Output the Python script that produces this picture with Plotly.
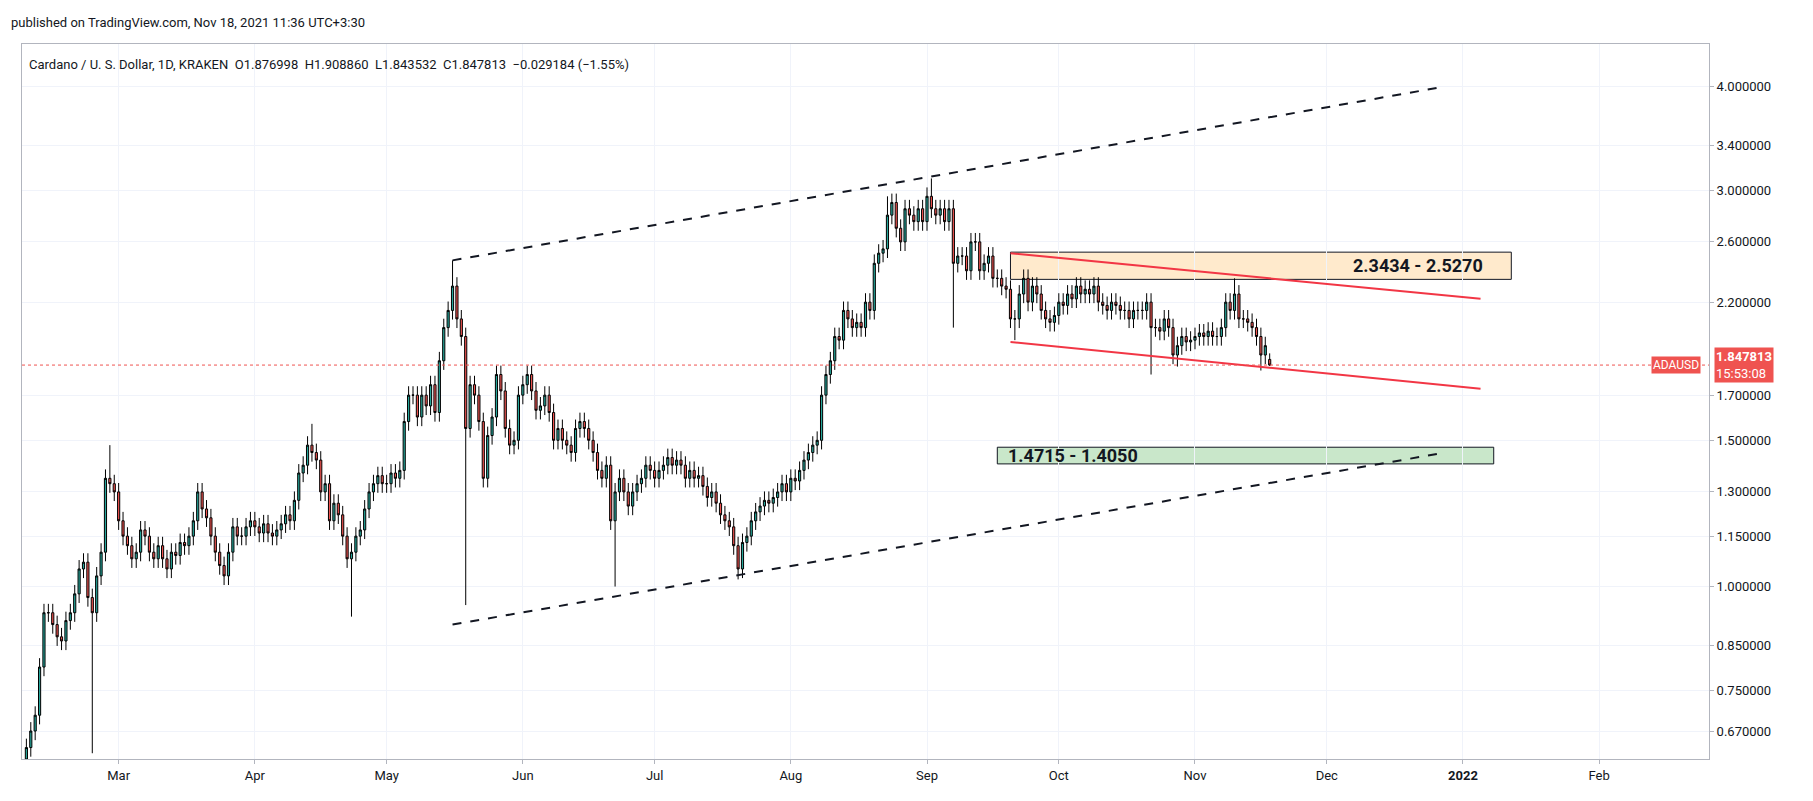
import plotly.graph_objects as go
import pandas as pd

start = "2021-02-08"
closes = [
    0.64, 0.67, 0.70, 0.80, 0.93, 0.93, 0.90,
    0.87, 0.86, 0.91, 0.93, 0.98, 1.05, 1.07,
    0.97, 0.93, 1.03, 1.10, 1.35, 1.33, 1.30,
    1.20, 1.15, 1.12, 1.08, 1.10, 1.17, 1.15,
    1.10, 1.08, 1.12, 1.08, 1.05, 1.10, 1.09,
    1.13, 1.12, 1.15, 1.20, 1.30, 1.24, 1.21,
    1.15, 1.10, 1.06, 1.03, 1.10, 1.18, 1.15,
    1.15, 1.18, 1.20, 1.18, 1.16, 1.19, 1.16,
    1.15, 1.17, 1.19, 1.22, 1.20, 1.27, 1.37,
    1.40, 1.48, 1.45, 1.42, 1.30, 1.33, 1.20,
    1.26, 1.22, 1.15, 1.08, 1.10, 1.15, 1.17,
    1.24, 1.30, 1.33, 1.36, 1.33, 1.33, 1.37,
    1.35, 1.38, 1.58, 1.70, 1.70, 1.60, 1.70,
    1.65, 1.75, 1.62, 1.87, 2.05, 2.15, 2.30,
    2.10, 2.00, 1.55, 1.75, 1.70, 1.58, 1.35,
    1.52, 1.60, 1.80, 1.72, 1.55, 1.48, 1.50,
    1.70, 1.75, 1.80, 1.72, 1.63, 1.65, 1.70,
    1.62, 1.50, 1.55, 1.50, 1.48, 1.45, 1.55,
    1.58, 1.55, 1.50, 1.45, 1.38, 1.35, 1.40,
    1.20, 1.30, 1.35, 1.30, 1.25, 1.30, 1.33,
    1.35, 1.40, 1.38, 1.35, 1.38, 1.40, 1.43,
    1.40, 1.42, 1.40, 1.35, 1.38, 1.35, 1.36,
    1.32, 1.28, 1.30, 1.26, 1.22, 1.20, 1.18,
    1.12, 1.05, 1.13, 1.15, 1.20, 1.23, 1.25,
    1.27, 1.26, 1.28, 1.30, 1.33, 1.30, 1.35,
    1.34, 1.38, 1.42, 1.45, 1.48, 1.50, 1.70,
    1.80, 1.87, 2.00, 1.98, 2.15, 2.10, 2.05,
    2.08, 2.05, 2.20, 2.15, 2.45, 2.52, 2.55,
    2.80, 2.90, 2.70, 2.60, 2.85, 2.80, 2.75,
    2.85, 2.75, 2.95, 2.85, 2.80, 2.85, 2.75,
    2.85, 2.45, 2.50, 2.50, 2.40, 2.60, 2.60,
    2.40, 2.45, 2.50, 2.35, 2.35, 2.30, 2.28,
    2.10, 2.10, 2.25, 2.35, 2.20, 2.30, 2.25,
    2.15, 2.10, 2.08, 2.12, 2.20, 2.18, 2.25,
    2.22, 2.30, 2.25, 2.28, 2.25, 2.30, 2.20,
    2.18, 2.15, 2.20, 2.18, 2.15, 2.15, 2.10,
    2.15, 2.15, 2.15, 2.20, 2.05, 2.05, 2.03,
    2.10, 2.05, 1.90, 1.95, 2.00, 1.97, 1.98,
    2.00, 2.02, 2.00, 2.03, 2.00, 2.00, 2.05,
    2.20, 2.15, 2.25, 2.10, 2.10, 2.08, 2.05,
    2.00, 1.90, 1.95, 1.847813,
]
first_open = 0.62
# notable wick extremes
high_marks = {"2021-02-27": 1.48, "2021-04-14": 1.57, "2021-05-16": 2.47,
              "2021-09-02": 3.10, "2021-11-10": 2.35, "2021-08-23": 2.95,
              "2021-11-18": 1.908860}
low_marks = {"2021-02-23": 0.63, "2021-04-23": 0.92, "2021-05-19": 0.95,
             "2021-06-22": 1.00, "2021-07-20": 1.02, "2021-09-07": 2.05,
             "2021-09-21": 1.98, "2021-10-22": 1.80, "2021-10-28": 1.84,
             "2021-11-16": 1.82, "2021-11-18": 1.843532}

dates = pd.date_range(start, periods=len(closes), freq="D")
opens = [first_open] + closes[:-1]
opens[-1] = 1.876998
highs, lows = [], []
for d, o, c in zip(dates, opens, closes):
    k = d.strftime("%Y-%m-%d")
    highs.append(high_marks.get(k, max(o, c) * 1.025))
    lows.append(low_marks.get(k, min(o, c) * 0.975))

up, down = "#26a69a", "#ef5350"
fig = go.Figure(go.Candlestick(
    x=dates, open=opens, high=highs, low=lows, close=closes,
    increasing=dict(line=dict(color="#000000", width=1), fillcolor=up),
    decreasing=dict(line=dict(color="#000000", width=1), fillcolor=down),
    whiskerwidth=0, showlegend=False, hoverinfo="skip"))

def seg(x0, y0, x1, y1, color, dash):
    fig.add_trace(go.Scatter(x=[x0, x1], y=[y0, y1], mode="lines", showlegend=False,
                             line=dict(color=color, width=2, dash=dash), hoverinfo="skip"))

seg("2021-05-16", 2.47, "2021-12-28", 4.0, "#131722", "dash")
seg("2021-05-16", 0.90, "2021-12-28", 1.45, "#131722", "dash")
seg("2021-09-20", 2.52, "2022-01-05", 2.22, "#f23645", "solid")
seg("2021-09-20", 1.97, "2022-01-05", 1.73, "#f23645", "solid")

fig.add_shape(type="rect", x0="2021-09-20", x1="2022-01-12", y0=2.3434, y1=2.5270,
              fillcolor="rgba(255,152,0,0.2)", line=dict(color="#131722", width=1), layer="below")
fig.add_shape(type="rect", x0="2021-09-17", x1="2022-01-08", y0=1.4050, y1=1.4715,
              fillcolor="rgba(76,175,80,0.3)", line=dict(color="#131722", width=1), layer="below")
fig.add_annotation(x="2022-01-06", y=0.5 * (0.3698 + 0.4027), text="<b>2.3434 - 2.5270</b>",
                   showarrow=False, xanchor="right", font=dict(size=18, color="#131722"))
fig.add_annotation(x="2021-09-19", y=0.5 * (0.1477 + 0.1678), text="<b>1.4715 - 1.4050</b>",
                   showarrow=False, xanchor="left", font=dict(size=18, color="#131722"))

last = closes[-1]
fig.add_hline(y=last, line=dict(color="#ef5350", width=1, dash="dot"))
fig.add_annotation(xref="paper", x=0.995, y=0.2667, text="ADAUSD", showarrow=False,
                   bgcolor="#ef5350", font=dict(color="white", size=12), xanchor="right")
fig.add_annotation(xref="paper", x=1.003, y=0.2667, text="<b>1.847813</b><br>15:53:08",
                   showarrow=False, bgcolor="#ef5350", font=dict(color="white", size=13),
                   xanchor="left", align="left")

fig.add_annotation(xref="paper", yref="paper", x=0.003, y=0.985, xanchor="left", yanchor="top",
                   text="Cardano / U. S. Dollar, 1D, KRAKEN  O1.876998  H1.908860  L1.843532  "
                        "C1.847813  −0.029184 (−1.55%)",
                   showarrow=False, font=dict(size=13, color="#131722"))
fig.add_annotation(xref="paper", yref="paper", x=-0.008, y=1.0, yshift=12,
                   xanchor="left", yanchor="bottom",
                   text="published on TradingView.com, Nov 18, 2021 11:36 UTC+3:30",
                   showarrow=False, font=dict(size=13, color="#131722"))

ticks = [0.67, 0.75, 0.85, 1.0, 1.15, 1.3, 1.5, 1.7, 2.2, 2.6, 3.0, 3.4, 4.0]
months = ["2021-03-01", "2021-04-01", "2021-05-01", "2021-06-01", "2021-07-01", "2021-08-01",
          "2021-09-01", "2021-10-01", "2021-11-01", "2021-12-01", "2022-01-01", "2022-02-01"]
month_labels = ["Mar", "Apr", "May", "Jun", "Jul", "Aug", "Sep", "Oct", "Nov", "Dec",
                "<b>2022</b>", "Feb"]
fig.update_layout(
    width=1813, height=801, plot_bgcolor="white", paper_bgcolor="white",
    margin=dict(l=14, r=112, t=36, b=50),
    font=dict(family="Roboto, Noto Sans, sans-serif", color="#131722"),
    xaxis=dict(range=["2021-02-07", "2022-02-26"], rangeslider=dict(visible=False),
               showgrid=True, gridcolor="#f0f3fa", tickvals=months, ticktext=month_labels,
               tickfont=dict(size=13), showline=True, linecolor="#b2b5be", mirror=True,
               ticks="outside", ticklen=4, tickcolor="#b2b5be"),
    yaxis=dict(type="log", side="right", range=[-0.2076, 0.6532], tickvals=ticks,
               ticktext=[f"{t:.6f}" for t in ticks], tickfont=dict(size=13),
               showgrid=True, gridcolor="#f0f3fa", showline=True, linecolor="#b2b5be",
               mirror=True, ticks="outside", ticklen=4, tickcolor="#b2b5be"),
)
fig.write_html("out.html")
